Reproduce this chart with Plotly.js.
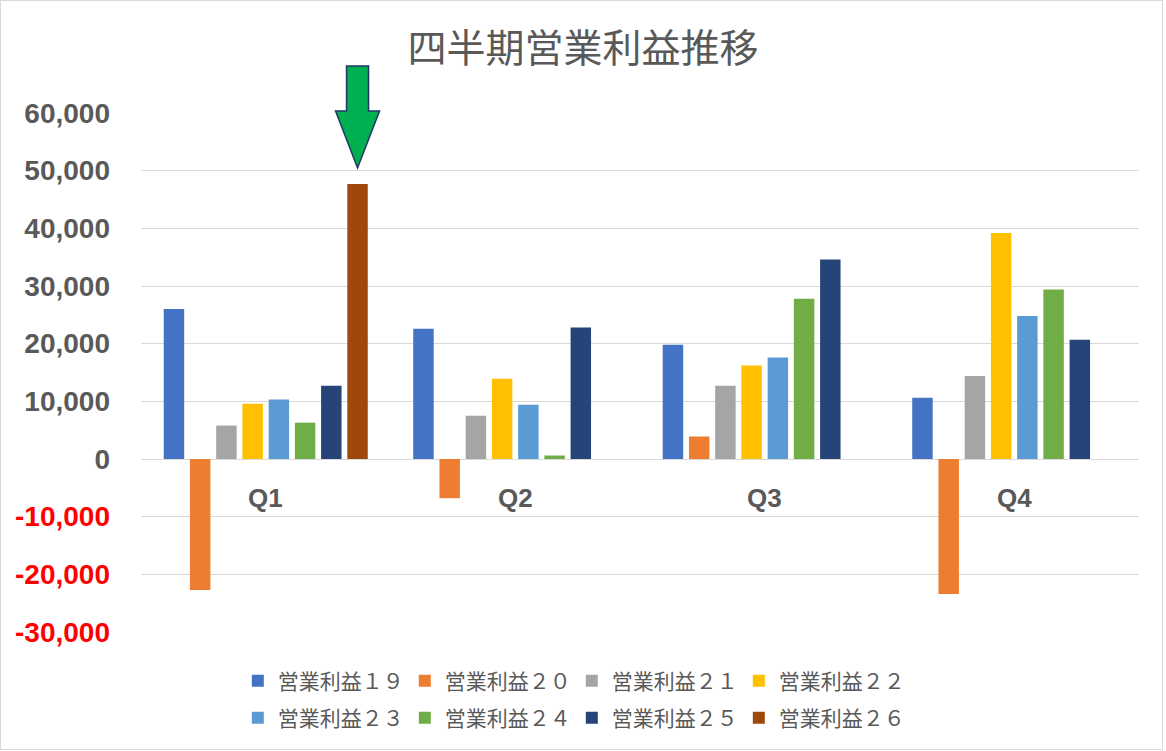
<!DOCTYPE html>
<html>
<head>
<meta charset="utf-8">
<script src="https://cdn.plot.ly/plotly-3.0.1.min.js"></script>
<style>
  body { margin: 0; background: #fff; }
  #wrap { position: relative; width: 1166px; height: 751px; }
  #frame { position: absolute; left: 0; top: 0; width: 1161px; height: 748px;
           border: 1px solid #d9d9d9; pointer-events: none; }
</style>
</head>
<body>
<div id="wrap">
  <div id="chart"></div>
  <div id="frame"></div>
</div>
<script>
quarters = ['Q1', 'Q2', 'Q3', 'Q4'];
seriesNames = ['営業利益１９', '営業利益２０', '営業利益２１', '営業利益２２',
               '営業利益２３', '営業利益２４', '営業利益２５', '営業利益２６'];
rieki19 = [26000, 22600, 19800, 10600];
rieki20 = [-22700, -6800, 3900, -23400];
rieki21 = [5800, 7500, 12700, 14400];
rieki22 = [9600, 13900, 16200, 39200];
rieki23 = [10300, 9400, 17600, 24800];
rieki24 = [6300, 600, 27800, 29400];
rieki25 = [12700, 22800, 34600, 20700];
rieki26 = [47700, null, null, null];
yTicks = [-30000, -20000, -10000, 0, 10000, 20000, 30000, 40000, 50000, 60000];

colors = ['#4472c4', '#ed7d31', '#a5a5a5', '#ffc000', '#5b9bd5', '#70ad47', '#264478', '#9e480e'];
values = [rieki19, rieki20, rieki21, rieki22, rieki23, rieki24, rieki25, rieki26];

GAP = 0.159;
Y_RANGE = [-30000, 60000];

traces = values.map(function (v, i) {
  return {
    x: quarters,
    y: v,
    type: 'bar',
    name: seriesNames[i],
    marker: {color: colors[i]},
    legend: i < 4 ? 'legend' : 'legend2',
    hoverinfo: 'skip',
  };
});

tickText = yTicks.map(function (t) {
  var s = t.toLocaleString('en-US');
  return t < 0 ? '<span style="color:#ff0000">' + s + '</span>' : s;
});

// arrow sits over the Q1 bar of the last series
var n = values.length;
var arrowX = (n - 1 - (n - 1) / 2) * (1 - GAP) / n;
var arrowY = (rieki26[0] - Y_RANGE[0]) / (Y_RANGE[1] - Y_RANGE[0]);

legendBase = {
  orientation: 'h',
  x: 0.097, xanchor: 'left',
  yanchor: 'middle',
  font: {family: '"Noto Sans CJK JP", sans-serif', size: 21, color: '#595959'},
  entrywidth: 122,
  itemclick: false,
  bgcolor: 'rgba(0,0,0,0)',
};

layout = {
  width: 1166,
  height: 751,
  margin: {l: 140.5, r: 26.5, t: 113, b: 119},
  paper_bgcolor: '#ffffff',
  plot_bgcolor: '#ffffff',
  barmode: 'group',
  bargap: GAP,
  bargroupgap: 0.22,
  title: {
    text: '四半期営業利益推移',
    font: {family: '"Noto Sans CJK JP", sans-serif', size: 39, color: '#595959'},
    x: 0.5, xanchor: 'center',
    y: 1 - 48 / 751, yanchor: 'middle',
  },
  xaxis: {
    type: 'category',
    range: [-0.5, 3.5],
    showticklabels: false,
    showgrid: false,
    zeroline: false,
    showline: false,
    fixedrange: true,
  },
  yaxis: {
    range: Y_RANGE,
    tickvals: yTicks,
    ticktext: tickText,
    tickfont: {family: '"Liberation Sans", Arial, sans-serif', size: 28, color: '#595959', weight: 'bold'},
    gridcolor: '#d9d9d9',
    gridwidth: 1,
    zeroline: true,
    zerolinecolor: '#d9d9d9',
    zerolinewidth: 1,
    showline: false,
    ticks: '',
    ticklabelstandoff: 30,
    fixedrange: true,
  },
  showlegend: true,
  legend: Object.assign({}, legendBase, {y: (632 - 681) / 519}),
  legend2: Object.assign({}, legendBase, {y: (632 - 718) / 519}),
  annotations: quarters.map(function (q) {
    return {
      x: q, y: 0, xref: 'x', yref: 'y',
      text: q, showarrow: false,
      yshift: -39,
      font: {family: '"Liberation Sans", Arial, sans-serif', size: 26, color: '#595959', weight: 'bold'},
    };
  }),
  shapes: [{
    type: 'path',
    xref: 'x', yref: 'paper',
    xsizemode: 'pixel', ysizemode: 'pixel',
    xanchor: arrowX, yanchor: arrowY,
    path: 'M -11,118 L 11,118 L 11,73 L 22,73 L 0,16 L -22,73 L -11,73 Z',
    fillcolor: '#00b050',
    line: {color: '#1f3864', width: 1.5},
  }],
};

Plotly.newPlot('chart', traces, layout, {staticPlot: true});
</script>
</body>
</html>
